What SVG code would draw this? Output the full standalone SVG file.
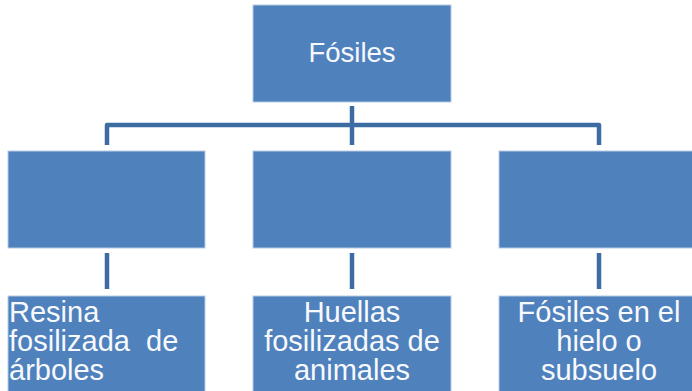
<svg xmlns="http://www.w3.org/2000/svg" width="692" height="391" viewBox="0 0 692 391">
<style>
.box{fill:#4f81bd;stroke:#b7cbe6;stroke-width:1}
.t{font-family:"Liberation Sans",Arial,sans-serif;fill:#f7f9fc}
.c{fill:none;stroke:#3d6ca3;stroke-width:4.5;stroke-linejoin:round}
</style>
<rect width="692" height="391" fill="#ffffff"/>
<g id="connectors">
<path class="c" d="M352,106 V125 M107,145 V125 H599 V145 M352,125 V145"/>
<path class="c" d="M107,253 V289 M352,253 V289 M599,253 V289"/>
</g>
<g id="root">
<rect class="box" x="253" y="5" width="198" height="97"/>
<text class="t" x="352" y="62" font-size="27.5" text-anchor="middle">Fósiles</text>
</g>
<g id="mid1"><rect class="box" x="8" y="151" width="197" height="97"/></g>
<g id="mid2"><rect class="box" x="253" y="151" width="198" height="97"/></g>
<g id="mid3"><rect class="box" x="499" y="151" width="198" height="97"/></g>
<g id="leaf1">
<rect class="box" x="8" y="296" width="197" height="100"/>
<text class="t" font-size="29"><tspan x="9" y="322">Resina</tspan><tspan x="9" y="351" xml:space="preserve">fosilizada  de</tspan><tspan x="9" y="380">árboles</tspan></text>
</g>
<g id="leaf2">
<rect class="box" x="253" y="296" width="198" height="100"/>
<text class="t" font-size="29" text-anchor="middle"><tspan x="352" y="322">Huellas</tspan><tspan x="352" y="351">fosilizadas de</tspan><tspan x="352" y="380">animales</tspan></text>
</g>
<g id="leaf3">
<rect class="box" x="499" y="296" width="198" height="100"/>
<text class="t" font-size="29" text-anchor="middle"><tspan x="599" y="322">Fósiles en el</tspan><tspan x="599" y="351">hielo o</tspan><tspan x="599" y="380">subsuelo</tspan></text>
</g>
</svg>
